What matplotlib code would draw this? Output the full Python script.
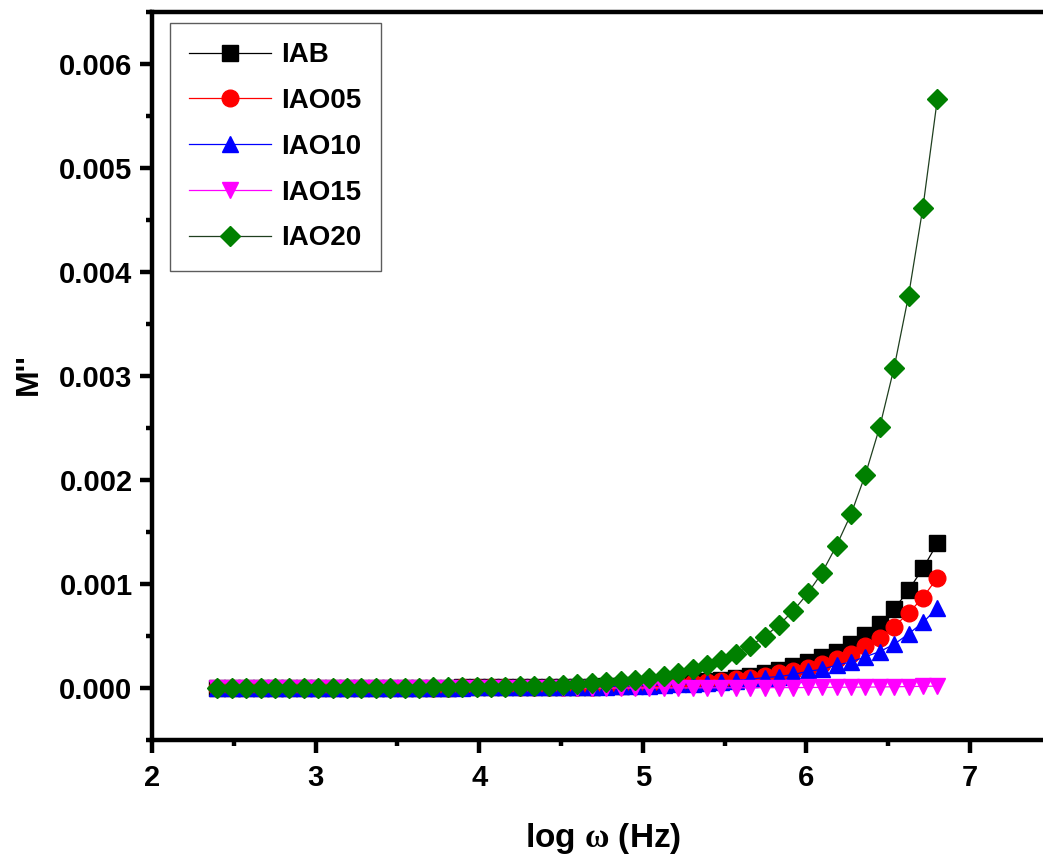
import matplotlib
matplotlib.use("Agg")
import matplotlib.pyplot as plt
from matplotlib.ticker import MultipleLocator, FormatStrFormatter
import numpy as np

plt.rcParams['font.family'] = ['Liberation Sans', 'DejaVu Sans']
plt.rcParams['font.weight'] = 'bold'
# omega in the x label is set in a serif face
plt.rcParams['mathtext.fontset'] = 'custom'
plt.rcParams['mathtext.rm'] = 'Liberation Serif'
plt.rcParams['mathtext.it'] = 'Liberation Serif'

# log of angular frequency (Hz), one point per step of the sweep
log_w = [2.400, 2.488, 2.576, 2.664, 2.752, 2.840, 2.928, 3.016, 3.104, 3.192,
         3.280, 3.368, 3.456, 3.544, 3.632, 3.720, 3.808, 3.896, 3.984, 4.072,
         4.160, 4.248, 4.336, 4.424, 4.512, 4.600, 4.688, 4.776, 4.864, 4.952,
         5.040, 5.128, 5.216, 5.304, 5.392, 5.480, 5.568, 5.656, 5.744, 5.832,
         5.920, 6.008, 6.096, 6.184, 6.272, 6.360, 6.448, 6.536, 6.624, 6.712,
         6.800]

# M'' for each sample, in units of 1e-3
iab = [0.001, 0.001, 0.001, 0.001, 0.001, 0.001, 0.001, 0.002, 0.002, 0.002,
       0.002, 0.002, 0.003, 0.003, 0.003, 0.004, 0.004, 0.005, 0.005, 0.006,
       0.006, 0.007, 0.008, 0.009, 0.010, 0.012, 0.014, 0.017, 0.021, 0.025,
       0.030, 0.036, 0.044, 0.053, 0.064, 0.078, 0.095, 0.115, 0.140, 0.170,
       0.210, 0.250, 0.300, 0.350, 0.420, 0.510, 0.620, 0.760, 0.940, 1.150,
       1.390]

iao05 = [0.001, 0.001, 0.001, 0.001, 0.001, 0.001, 0.001, 0.002, 0.002, 0.002,
         0.002, 0.002, 0.003, 0.003, 0.003, 0.004, 0.004, 0.005, 0.005, 0.006,
         0.006, 0.007, 0.008, 0.009, 0.010, 0.012, 0.014, 0.017, 0.020, 0.024,
         0.029, 0.035, 0.042, 0.050, 0.060, 0.072, 0.086, 0.100, 0.120, 0.140,
         0.160, 0.190, 0.230, 0.280, 0.330, 0.400, 0.480, 0.590, 0.720, 0.870,
         1.060]

iao10 = [0.001, 0.001, 0.001, 0.001, 0.001, 0.001, 0.001, 0.001, 0.002, 0.002,
         0.002, 0.002, 0.002, 0.003, 0.003, 0.003, 0.004, 0.004, 0.005, 0.005,
         0.006, 0.006, 0.007, 0.008, 0.009, 0.010, 0.012, 0.014, 0.017, 0.020,
         0.024, 0.029, 0.035, 0.042, 0.050, 0.060, 0.072, 0.085, 0.100, 0.110,
         0.130, 0.160, 0.180, 0.220, 0.250, 0.300, 0.350, 0.420, 0.520, 0.630,
         0.770]

iao15 = [0.000, 0.000, 0.000, 0.000, 0.000, 0.000, 0.000, 0.000, 0.000, 0.000,
         0.000, 0.000, 0.000, 0.000, 0.000, 0.000, 0.000, 0.000, 0.000, 0.000,
         0.000, 0.000, 0.000, 0.000, 0.000, 0.000, 0.000, 0.000, 0.000, 0.000,
         0.001, 0.001, 0.001, 0.001, 0.002, 0.002, 0.002, 0.003, 0.003, 0.004,
         0.004, 0.005, 0.006, 0.007, 0.008, 0.009, 0.010, 0.012, 0.014, 0.016,
         0.018]

iao20 = [0.001, 0.001, 0.001, 0.001, 0.001, 0.001, 0.002, 0.002, 0.002, 0.002,
         0.003, 0.003, 0.003, 0.004, 0.004, 0.005, 0.006, 0.007, 0.009, 0.011,
         0.013, 0.016, 0.019, 0.024, 0.029, 0.036, 0.044, 0.053, 0.065, 0.080,
         0.098, 0.120, 0.146, 0.179, 0.220, 0.269, 0.330, 0.404, 0.495, 0.606,
         0.743, 0.910, 1.110, 1.370, 1.670, 2.050, 2.510, 3.080, 3.770, 4.620,
         5.660]

series = [
    ('IAB', iab, 's', 'black', 'black', 11),
    ('IAO05', iao05, 'o', 'red', 'red', 12),
    ('IAO10', iao10, '^', 'blue', 'blue', 11.5),
    ('IAO15', iao15, 'v', 'magenta', 'magenta', 11.5),
    ('IAO20', iao20, 'D', '#1f3f1f', 'green', 10.5),
]

fig = plt.figure(figsize=(10.43, 8.57), dpi=100)
ax = fig.add_axes([152 / 1043, 1 - 740 / 857, 1 - 152 / 1043, (740 - 12) / 857])

for name, vals, mk, lc, mc, ms in series:
    ax.plot(log_w, np.array(vals) * 1e-3, marker=mk, color=lc, mfc=mc, mec=mc,
            ms=ms, lw=0.9, label=name)

ax.set_xlim(2, 7.446)
ax.set_ylim(-0.0005, 0.0065)
ax.xaxis.set_major_locator(MultipleLocator(1))
ax.xaxis.set_minor_locator(MultipleLocator(0.5))
ax.yaxis.set_major_locator(MultipleLocator(0.001))
ax.yaxis.set_minor_locator(MultipleLocator(0.0005))
ax.yaxis.set_major_formatter(FormatStrFormatter('%.3f'))

ax.spines['right'].set_visible(False)
for s in ['left', 'bottom', 'top']:
    ax.spines[s].set_linewidth(3.2)
ax.tick_params(which='major', direction='out', length=9, width=3.2, labelsize=21)
ax.tick_params(axis='y', which='major', pad=5)
ax.tick_params(axis='x', which='major', pad=8)
ax.tick_params(which='minor', direction='out', length=4.5, width=3.2)

ax.set_xlabel(r'log $\omega$ (Hz)', fontsize=24, fontweight='bold')
ax.xaxis.set_label_coords(0.506, -0.111)
ax.set_ylabel("M''", fontsize=23, fontweight='bold')
ax.yaxis.set_label_coords(-0.121, 0.503)

leg = ax.legend(loc='upper left', bbox_to_anchor=(170 / 1043, 1 - 23 / 857),
                bbox_transform=fig.transFigure, borderaxespad=0, fancybox=False,
                edgecolor='#333333', handlelength=2.95, fontsize=20,
                labelspacing=0.71, borderpad=0.7, handletextpad=0.35)
leg.get_frame().set_linewidth(1)

fig.savefig('out.png', dpi=100)
